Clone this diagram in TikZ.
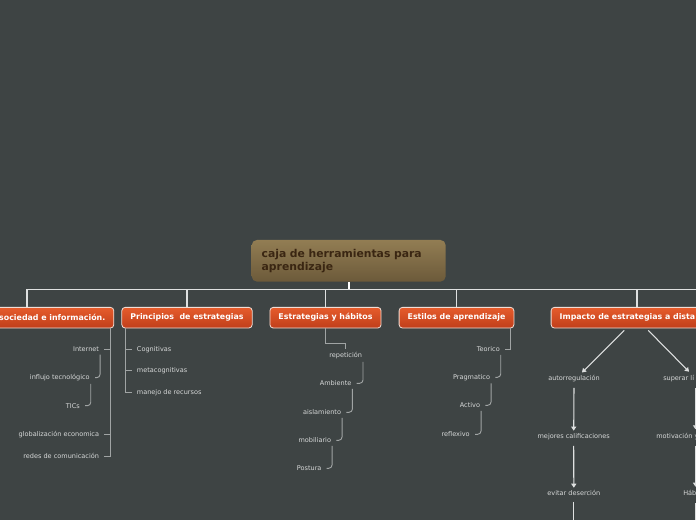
\documentclass[tikz,border=0pt]{standalone}
\usepackage{fontspec}
\setmainfont{DejaVu Sans}
\usetikzlibrary{arrows.meta, positioning, calc}

\definecolor{canvas}{RGB}{62,68,68}
\definecolor{rootTop}{RGB}{146,125,83}
\definecolor{rootBot}{RGB}{108,90,58}
\definecolor{rootInk}{RGB}{58,38,18}
\definecolor{headTop}{RGB}{230,92,44}
\definecolor{headBot}{RGB}{192,62,26}
\definecolor{headRim}{RGB}{240,222,214}
\definecolor{leafInk}{RGB}{214,216,216}
\definecolor{twigGray}{RGB}{160,164,164}
\definecolor{busGray}{RGB}{222,224,224}

\begin{document}
\begin{tikzpicture}[x=0.75pt, y=-0.75pt, >=Stealth, font=\tiny]
    \tikzstyle{topic} = [rectangle, rounded corners=4pt, top color=rootTop, bottom color=rootBot, text=rootInk, font=\fontsize{8.1}{10}\selectfont\bfseries, text width=130.5pt, align=left, inner xsep=7.5pt, minimum height=31.3pt]
    \tikzstyle{branch} = [rectangle, rounded corners=2.5pt, draw=headRim, line width=0.6pt, top color=headTop, bottom color=headBot, text=white, font=\fontsize{5.9}{7}\selectfont\bfseries, inner xsep=6.4pt, inner ysep=0pt, minimum height=15.5pt]
    \tikzstyle{leaf} = [text=leafInk, font=\fontsize{4.9}{6}\selectfont, inner xsep=3.75pt, inner ysep=2pt]
    \tikzstyle{twig} = [draw=twigGray, line width=0.7pt]
    \tikzstyle{bus} = [draw=busGray, line width=0.9pt]
    \tikzstyle{flow} = [draw=busGray, line width=0.8pt, -{Triangle[length=3pt, width=3.8pt]}]

    \useasboundingbox (0,0) rectangle (696,520);
    \fill [canvas] (0,0) rectangle (696,520);
    \clip (0,0) rectangle (696,520);

    % Nodes
    \node [topic] (root) at (348.7,260.8) {caja de herramientas para\\aprendizaje};

    \node [branch, anchor=east] (soc) at (114.2,317.7) {sociedad e información.};
    \node [branch] (princ) at (187,317.7) {Principios\ \ de estrategias};
    \node [branch] (habit) at (325.5,317.7) {Estrategias y hábitos};
    \node [branch] (estilo) at (456.5,317.7) {Estilos de aprendizaje};
    \node [branch, anchor=west] (impact) at (550.7,317.7) {Impacto de estrategias a dista};

    \coordinate (busL) at (27,289.3);
    \coordinate (busR) at (700,289.3);
    \coordinate (impDrop) at (637,289.3);

    % sociedad
    \node [leaf, anchor=east] (internet) at (104.3,349.3) {Internet};
    \node [leaf, anchor=east] (influjo) at (95,377.7) {influjo tecnológico};
    \node [leaf, anchor=east] (tics) at (85,405.7) {TICs};
    \node [leaf, anchor=east] (globo) at (104.3,434.7) {globalización economica};
    \node [leaf, anchor=east] (redes) at (104.3,456) {redes de comunicación};

    % principios
    \node [leaf, anchor=west] (cogn) at (131.7,349.3) {Cognitivas};
    \node [leaf, anchor=west] (metac) at (131.7,370.3) {metacognitivas};
    \node [leaf, anchor=west] (manejo) at (131.7,392.3) {manejo de recursos};

    % habitos
    \node [leaf] (repet) at (345.7,355.7) {repetición};
    \node [leaf, anchor=east] (ambiente) at (356.7,383.3) {Ambiente};
    \node [leaf, anchor=east] (aislam) at (346.3,412.3) {aislamiento};
    \node [leaf, anchor=east] (mobil) at (336.3,440.3) {mobiliario};
    \node [leaf, anchor=east] (postura) at (326.7,468.3) {Postura};

    % estilos
    \node [leaf, anchor=east] (teorico) at (505,349.3) {Teorico};
    \node [leaf, anchor=east] (pragma) at (495.3,377.3) {Pragmatico};
    \node [leaf, anchor=east] (activo) at (485.3,405.3) {Activo};
    \node [leaf, anchor=east] (reflex) at (475,434.3) {reflexivo};

    % impacto
    \node [leaf] (autorreg) at (574,378.7) {autorregulación};
    \node [leaf] (mejores) at (573.7,436.7) {mejores calificaciones};
    \node [leaf] (evitar) at (573.8,493.3) {evitar deserción};
    \node [leaf, anchor=west] (superar) at (658,378.7) {superar lí};
    \node [leaf, anchor=west] (motiv) at (651,436.7) {motivación y};
    \node [leaf, anchor=west] (habitos) at (678,493.3) {Háb};

    \coordinate (supTip) at (689,371.7);
    \coordinate (rc1) at (695.5,388);
    \coordinate (rc2) at (695.5,429.3);
    \coordinate (rc3) at (695.5,445.7);
    \coordinate (rc4) at (695.5,486.7);
    \coordinate (rc5) at (695.5,503.3);
    \coordinate (rc6) at (695.5,525);
    \coordinate (offBottom) at (573.8,525);

    % Connections
    \draw [bus] (busL) -- (busR);
    \draw [draw=white, line width=1.6pt] (root.south) -- (root.south |- busL);
    \draw [bus] (busL) -- (busL |- soc.north);
    \foreach \h in {princ, habit, estilo}
        \draw [bus] (\h.north |- busL) -- (\h.north);
    \draw [bus] (impDrop) -- (impDrop |- impact.north);

    \foreach \l in {internet, globo, redes}
        \draw [twig] ($(soc.south east)+(-4,0)$) |- (\l.east);
    \foreach \a/\b in {internet/influjo, influjo/tics}
        \draw [twig, rounded corners=2.5pt] ([xshift=-3.2pt]\a.south east) |- (\b.east);

    \foreach \l in {cogn, metac, manejo}
        \draw [twig] ($(princ.south west)+(4,0)$) |- (\l.west);

    \draw [twig] (habit.south) -- ++(0,14.7) -| (repet.north);
    \foreach \a/\b in {repet/ambiente, ambiente/aislam, aislam/mobil, mobil/postura}
        \draw [twig, rounded corners=2.5pt] ([xshift=-3.2pt]\a.south east) |- (\b.east);

    \draw [twig] ($(estilo.south east)+(-4,0)$) |- (teorico.east);
    \foreach \a/\b in {teorico/pragma, pragma/activo, activo/reflex}
        \draw [twig, rounded corners=2.5pt] ([xshift=-3.2pt]\a.south east) |- (\b.east);

    \draw [flow] ($(impDrop |- impact.south)+(-12.7,2)$) -- ($(autorreg.north)+(8,0)$);
    \draw [flow] ($(impDrop |- impact.south)+(11.3,2)$) -- (supTip);
    \draw [flow] ($(autorreg.south)+(0,3)$) -- (mejores.north);
    \draw [flow] ($(mejores.south)+(0,3)$) -- (evitar.north);
    \draw [bus, line width=0.8pt] ($(evitar.south)+(0,3)$) -- (offBottom);
    \draw [flow] (rc1) -- (rc2);
    \draw [flow] (rc3) -- (rc4);
    \draw [bus, line width=0.8pt] (rc5) -- (rc6);
\end{tikzpicture}
\end{document}
